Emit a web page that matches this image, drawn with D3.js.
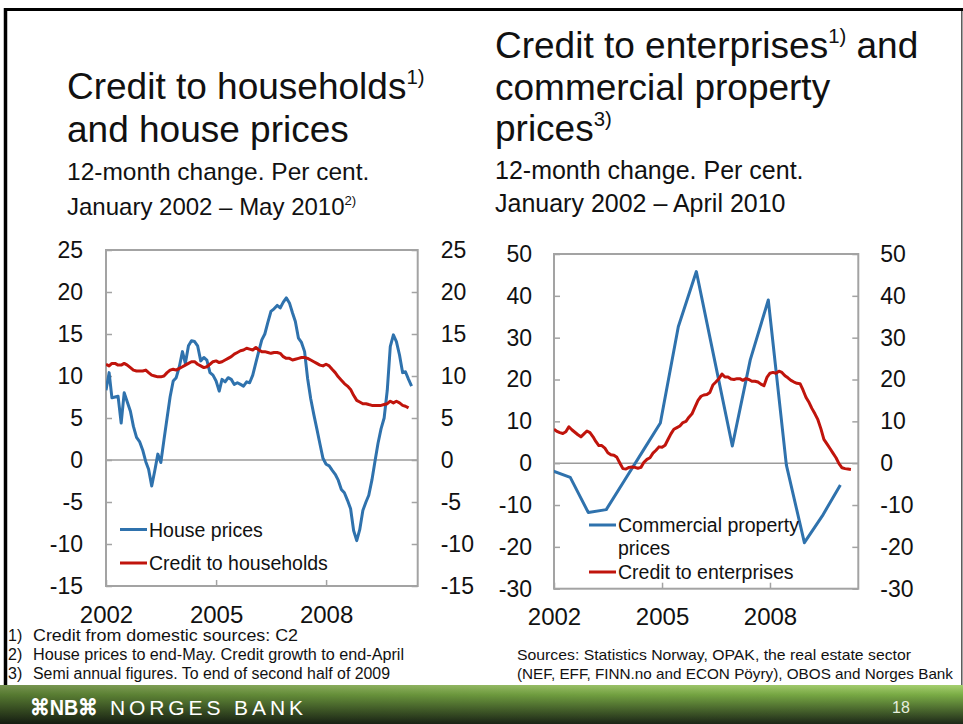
<!DOCTYPE html>
<html>
<head>
<meta charset="utf-8">
<script src="https://cdnjs.cloudflare.com/ajax/libs/d3/7.8.5/d3.min.js"></script>
<style>
  body { margin: 0; background: #fff; }
  svg text { font-family: "Liberation Sans", Arial, sans-serif; fill: #111; }
</style>
</head>
<body>
<svg id="slide" width="963" height="724"></svg>
<script>

// house prices, 12-month change, Jan 2002 - May 2010 (monthly)
var housePrices = [
  8.3, 10.4, 7.4, 7.5, 7.6, 4.4, 8.0, 6.9, 5.8, 4.0,
  2.7, 2.2, 1.2, -0.2, -1.1, -3.1, -1.3, 0.7, -0.3, 2.4,
  5.0, 7.5, 9.4, 9.8, 11.1, 12.9, 11.5, 13.6, 14.2, 14.1,
  13.6, 11.8, 12.2, 11.9, 10.4, 10.1, 9.4, 8.2, 9.6, 9.3,
  9.8, 9.6, 9.0, 9.2, 9.0, 8.8, 9.3, 9.2, 10.1, 11.6,
  12.9, 14.3, 15.0, 16.4, 17.7, 18.0, 18.4, 18.1, 18.8, 19.3,
  18.7, 17.5, 16.5, 14.5, 14.0, 12.9, 9.7, 7.3, 5.4, 3.7,
  1.9, 0.2, -0.5, -0.7, -1.2, -1.7, -2.4, -3.5, -3.9, -4.8,
  -5.8, -8.4, -9.6, -8.3, -6.0, -5.0, -4.2, -2.4, -0.2, 2.0,
  3.7, 5.0, 8.3, 13.5, 14.9, 14.1, 12.5, 10.4, 10.5, 9.6,
  8.8
];

// credit to households (C2), Jan 2002 - Apr 2010
var creditHouseholds = [
  11.4, 11.2, 11.5, 11.5, 11.3, 11.3, 11.5, 11.3, 11.0, 10.7,
  10.6, 10.6, 10.6, 10.7, 10.4, 10.1, 10.0, 9.9, 9.9, 10.0,
  10.4, 10.7, 10.8, 10.7, 10.9, 11.1, 11.3, 11.5, 11.7, 11.7,
  11.4, 11.2, 11.0, 11.1, 11.4, 11.7, 11.8, 11.6, 11.7, 11.9,
  12.1, 12.3, 12.6, 12.8, 13.0, 13.1, 13.3, 13.2, 13.1, 13.4,
  13.1, 12.9, 12.9, 12.8, 12.7, 12.8, 12.8, 12.7, 12.3, 12.1,
  12.1, 11.9, 12.0, 12.1, 12.2, 12.2, 12.1, 11.9, 11.7, 11.5,
  11.3, 11.2, 11.4, 11.2, 10.8, 10.4, 9.9, 9.5, 9.1, 8.8,
  8.4, 7.7, 7.1, 6.9, 6.7, 6.7, 6.6, 6.5, 6.5, 6.5,
  6.5, 6.6, 6.7, 7.0, 6.8, 7.0, 6.8, 6.5, 6.4, 6.2
];

// credit to enterprises, Jan 2002 - Apr 2010
var creditEnterprises = [
  8.1, 7.6, 7.3, 7.1, 7.5, 8.7, 8.0, 7.4, 6.8, 6.3,
  7.0, 7.7, 7.3, 6.3, 5.2, 4.2, 4.2, 3.6, 2.5, 2.0,
  1.9, 1.4, 0.0, -1.3, -1.4, -1.0, -0.9, -1.0, -1.2, -1.0,
  0.2, 0.9, 1.3, 2.4, 3.1, 3.9, 3.8, 4.3, 5.6, 7.0,
  8.1, 8.5, 8.9, 9.7, 10.0, 11.0, 11.8, 13.4, 15.0, 16.0,
  16.3, 16.4, 16.9, 18.7, 19.4, 20.2, 21.3, 20.6, 20.6, 20.1,
  20.0, 20.2, 20.2, 19.8, 20.2, 20.0, 19.6, 19.6, 19.4, 18.9,
  18.5, 20.5, 21.5, 21.7, 21.5, 22.0, 21.7, 20.9, 20.4, 19.8,
  19.4, 19.1, 19.0, 17.5, 15.7, 14.5, 13.1, 11.8, 10.4, 8.2,
  5.7, 4.6, 3.5, 2.4, 1.3, -0.1, -1.1, -1.3, -1.4, -1.5
];

// commercial property prices, semi annual
var propDates = [
  "2001-12-15", "2002-06-15", "2002-12-15", "2003-06-15", "2003-12-15",
  "2004-06-15", "2004-12-15", "2005-06-15", "2005-12-15", "2006-06-15",
  "2006-12-15", "2007-06-15", "2007-12-15", "2008-06-15", "2008-12-15",
  "2009-06-15", "2009-12-15"
];
var propPrices = [
  -1.8, -3.4, -11.8, -11.1, -4.2, 2.7, 9.6, 32.6, 45.8, 25.0,
  4.1, 24.7, 39.0, -0.4, -19.0, -12.6, -5.2
];

var yearTicks = [2002, 2005, 2008];
var leftTicks = [25, 20, 15, 10, 5, 0, -5, -10, -15];
var rightTicks = [50, 40, 30, 20, 10, 0, -10, -20, -30];

var blue = "#2f72ad";
var red = "#c0140c";
var grey = "#a3a3a3";

var svg = d3.select("#slide");

// monthly series -> {date, v}
function monthly(values) {
  return values.map(function (v, i) {
    return { date: new Date(Date.UTC(2002, i, 1)), v: v };
  });
}

// plain hyphen for negatives, like the slide
function plain(d) { return String(d); }

function drawPanel(p) {
  var x = d3.scaleUtc().domain(p.xDomain).range([p.left, p.right]);
  var y = d3.scaleLinear().domain(p.yDomain).range([p.bottom, p.top]);
  var g = svg.append("g");

  g.append("clipPath").attr("id", p.id + "-clip")
    .append("rect")
    .attr("x", p.left).attr("y", p.top)
    .attr("width", p.right - p.left).attr("height", p.bottom - p.top);

  // zero line
  g.append("line")
    .attr("x1", p.left).attr("x2", p.right)
    .attr("y1", y(0)).attr("y2", y(0))
    .attr("stroke", "#9b9b9b").attr("stroke-width", 1.5);

  var yl = g.append("g")
    .attr("transform", "translate(" + p.left + ",0)")
    .call(d3.axisLeft(y).tickValues(p.ticks).tickFormat(plain)
      .tickSizeInner(-6).tickSizeOuter(0).tickPadding(p.pad));
  var yr = g.append("g")
    .attr("transform", "translate(" + p.right + ",0)")
    .call(d3.axisRight(y).tickValues(p.ticks).tickFormat(plain)
      .tickSizeInner(-6).tickSizeOuter(0).tickPadding(p.pad));
  var xa = g.append("g")
    .attr("transform", "translate(0," + p.bottom + ")")
    .call(d3.axisBottom(x)
      .tickValues(yearTicks.map(function (yr) { return new Date(Date.UTC(yr, 0, 1)); }))
      .tickFormat(d3.utcFormat("%Y"))
      .tickSizeInner(-6).tickSizeOuter(0).tickPadding(p.xPad));

  [yl, yr, xa].forEach(function (a) {
    a.select(".domain").remove();
    a.selectAll(".tick line").attr("stroke", grey).attr("stroke-width", 1.5);
    a.selectAll("text").style("font-size", "23px").attr("fill", "#111");
  });
  xa.selectAll("text").style("font-size", "24px");

  // frame
  g.append("rect")
    .attr("x", p.left).attr("y", p.top)
    .attr("width", p.right - p.left).attr("height", p.bottom - p.top)
    .attr("fill", "none").attr("stroke", grey).attr("stroke-width", 2);

  var line = d3.line()
    .x(function (d) { return x(d.date); })
    .y(function (d) { return y(d.v); });

  p.series.forEach(function (s) {
    g.append("path")
      .datum(s.data)
      .attr("clip-path", "url(#" + p.id + "-clip)")
      .attr("d", line)
      .attr("fill", "none")
      .attr("stroke", s.color)
      .attr("stroke-width", 3)
      .attr("stroke-linejoin", "round");
  });

  // legend
  p.legend.forEach(function (l) {
    g.append("line")
      .attr("x1", l.x).attr("x2", l.x + 27)
      .attr("y1", l.y).attr("y2", l.y)
      .attr("stroke", l.color).attr("stroke-width", 3);
    var t = g.append("text")
      .attr("x", l.x + 29).attr("y", l.y + 7)
      .style("font-size", "19.5px");
    l.text.forEach(function (s, i) {
      t.append("tspan").attr("x", l.x + 29).attr("dy", i ? 23 : 0).text(s);
    });
  });
}

// left panel
drawPanel({
  id: "hh",
  left: 106, right: 417.7, top: 250, bottom: 586,
  xDomain: [new Date(Date.UTC(2002, 0, 1)), new Date(Date.UTC(2010, 6, 1))],
  yDomain: [-15, 25],
  ticks: leftTicks, pad: 23, xPad: 20,
  series: [
    { data: monthly(housePrices), color: blue },
    { data: monthly(creditHouseholds), color: red }
  ],
  legend: [
    { x: 120, y: 529.5, color: blue, text: ["House prices"] },
    { x: 120, y: 563, color: red, text: ["Credit to households"] }
  ]
});

// right panel
drawPanel({
  id: "ent",
  left: 554, right: 858.3, top: 254, bottom: 588.7,
  xDomain: [new Date(Date.UTC(2002, 0, 1)), new Date(Date.UTC(2010, 5, 15))],
  yDomain: [-30, 50],
  ticks: rightTicks, pad: 22, xPad: 19,
  series: [
    { data: propDates.map(function (d, i) { return { date: new Date(d + "T00:00:00Z"), v: propPrices[i] }; }), color: blue },
    { data: monthly(creditEnterprises), color: red }
  ],
  legend: [
    { x: 589, y: 525, color: blue, text: ["Commercial property", "prices"] },
    { x: 589, y: 572, color: red, text: ["Credit to enterprises"] }
  ]
});

// titles
function title(x, y, size, parts) {
  var t = svg.append("text").attr("x", x).attr("y", y).style("font-size", size + "px");
  parts.forEach(function (p) {
    if (p.sup) {
      t.append("tspan").attr("dy", -size * 0.4).style("font-size", (size * 0.55) + "px").text(p.sup);
    } else {
      t.append("tspan").attr("dy", p.back ? size * 0.4 : 0).text(p.text);
    }
  });
}

title(67, 99, 37, [{ text: "Credit to households" }, { sup: "1)" }]);
title(67, 142, 37, [{ text: "and house prices" }]);
title(67, 180, 24.5, [{ text: "12-month change. Per cent." }]);
title(67, 215, 24, [{ text: "January 2002 – May 2010" }, { sup: "2)" }]);

title(495, 58, 37, [{ text: "Credit to enterprises" }, { sup: "1)" }, { text: " and", back: true }]);
title(495, 100, 37, [{ text: "commercial property" }]);
title(495, 141, 37, [{ text: "prices" }, { sup: "3)" }]);
title(495, 179, 25, [{ text: "12-month change. Per cent." }]);
title(495, 212, 25, [{ text: "January 2002 – April 2010" }]);

// footnotes
var notes = [
  ["1)", "Credit from domestic sources: C2", 265],
  ["2)", "House prices to end-May. Credit growth to end-April", 371],
  ["3)", "Semi annual figures. To end of second half of 2009", 357]
];
notes.forEach(function (n, i) {
  var yy = 641 + i * 19;
  svg.append("text").attr("x", 8).attr("y", yy).style("font-size", "16px").text(n[0]);
  svg.append("text").attr("x", 33).attr("y", yy).style("font-size", "16px")
    .attr("textLength", n[2]).attr("lengthAdjust", "spacingAndGlyphs").text(n[1]);
});
var sources = [
  ["Sources: Statistics Norway, OPAK, the real estate sector", 394],
  ["(NEF, EFF, FINN.no and ECON Pöyry), OBOS and Norges Bank", 436]
];
sources.forEach(function (s, i) {
  svg.append("text").attr("x", 517).attr("y", 660 + i * 19).style("font-size", "15px")
    .attr("textLength", s[1]).attr("lengthAdjust", "spacingAndGlyphs").text(s[0]);
});

// slide frame
svg.append("line").attr("x1", 5.5).attr("x2", 5.5).attr("y1", 8).attr("y2", 686)
  .attr("stroke", "#000").attr("stroke-width", 3.5);
svg.append("line").attr("x1", 4).attr("x2", 963).attr("y1", 9.5).attr("y2", 9.5)
  .attr("stroke", "#000").attr("stroke-width", 3);
svg.append("line").attr("x1", 961.8).attr("x2", 961.8).attr("y1", 11).attr("y2", 686)
  .attr("stroke", "#555").attr("stroke-width", 1.5);

// green footer bar
var defs = svg.append("defs");
var gv = defs.append("linearGradient").attr("id", "barV").attr("x1", 0).attr("y1", 0).attr("x2", 0).attr("y2", 1);
gv.append("stop").attr("offset", "0%").attr("stop-color", "#a6d070");
gv.append("stop").attr("offset", "25%").attr("stop-color", "#7aac45");
gv.append("stop").attr("offset", "100%").attr("stop-color", "#1d2818");
var gh = defs.append("linearGradient").attr("id", "barH").attr("x1", 0).attr("y1", 0).attr("x2", 1).attr("y2", 0);
gh.append("stop").attr("offset", "0%").attr("stop-color", "#000").attr("stop-opacity", 0.3);
gh.append("stop").attr("offset", "60%").attr("stop-color", "#000").attr("stop-opacity", 0.08);
gh.append("stop").attr("offset", "100%").attr("stop-color", "#000").attr("stop-opacity", 0);

svg.append("rect").attr("x", 0).attr("y", 685).attr("width", 963).attr("height", 39).attr("fill", "url(#barV)");
svg.append("rect").attr("x", 0).attr("y", 685).attr("width", 963).attr("height", 39).attr("fill", "url(#barH)");

// logo
svg.append("text").attr("x", 30).attr("y", 715)
  .style("font-size", "22px").style("fill", "#fff").style("font-weight", "bold")
  .attr("textLength", 68).attr("lengthAdjust", "spacingAndGlyphs")
  .text("⌘NB⌘");
svg.append("text").attr("x", 110).attr("y", 715)
  .style("font-size", "21px").style("fill", "#fff")
  .attr("textLength", 193).attr("lengthAdjust", "spacing")
  .text("NORGES BANK");
svg.append("text").attr("x", 892).attr("y", 713)
  .style("font-size", "16px").style("fill", "#e6eede")
  .text("18");

</script>
</body>
</html>
